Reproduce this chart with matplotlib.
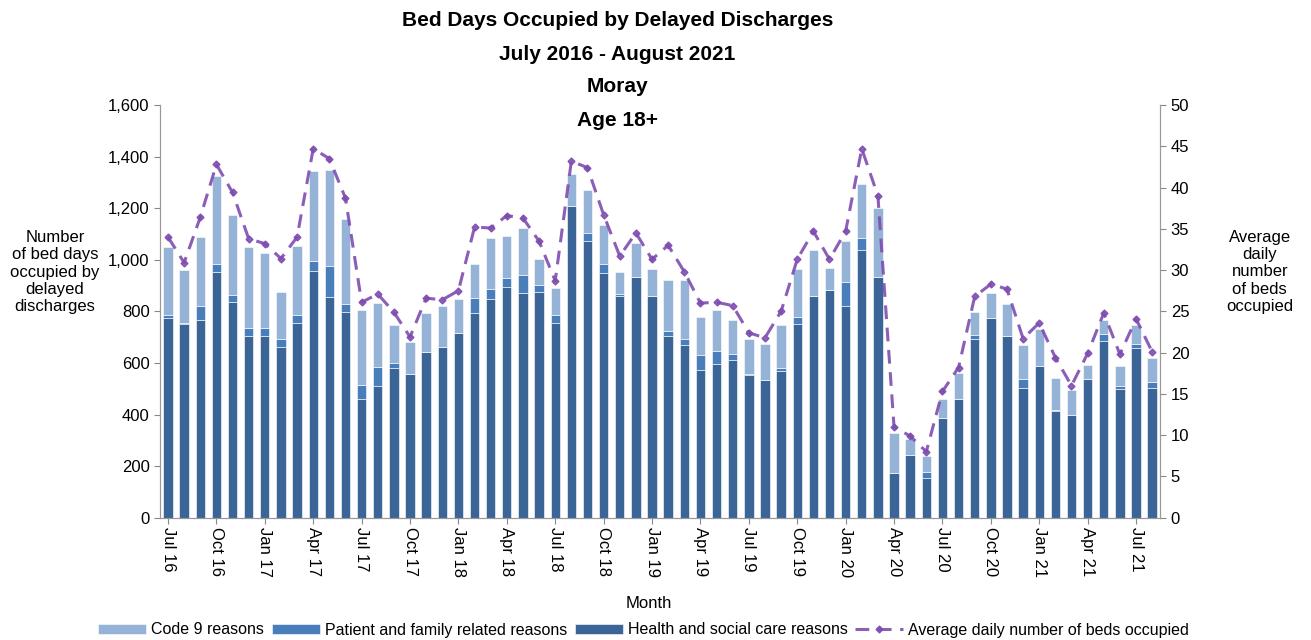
import matplotlib
matplotlib.use("Agg")
import matplotlib.pyplot as plt
import numpy as np

plt.rcParams["font.family"] = ["Liberation Sans", "DejaVu Sans"]

# ── data ─────────────────────────────────────────────────────────────────────
months = ["Jul 16", "Aug 16", "Sep 16", "Oct 16", "Nov 16", "Dec 16",
          "Jan 17", "Feb 17", "Mar 17", "Apr 17", "May 17", "Jun 17",
          "Jul 17", "Aug 17", "Sep 17", "Oct 17", "Nov 17", "Dec 17",
          "Jan 18", "Feb 18", "Mar 18", "Apr 18", "May 18", "Jun 18",
          "Jul 18", "Aug 18", "Sep 18", "Oct 18", "Nov 18", "Dec 18",
          "Jan 19", "Feb 19", "Mar 19", "Apr 19", "May 19", "Jun 19",
          "Jul 19", "Aug 19", "Sep 19", "Oct 19", "Nov 19", "Dec 19",
          "Jan 20", "Feb 20", "Mar 20", "Apr 20", "May 20", "Jun 20",
          "Jul 20", "Aug 20", "Sep 20", "Oct 20", "Nov 20", "Dec 20",
          "Jan 21", "Feb 21", "Mar 21", "Apr 21", "May 21", "Jun 21",
          "Jul 21", "Aug 21"]

health = [774, 750, 765, 953, 835, 704, 703, 662, 756, 958, 855, 797,
          462, 510, 582, 556, 644, 662, 716, 795, 848, 893, 872, 875,
          756, 1210, 1071, 949, 859, 935, 860, 704, 671, 571, 597, 610,
          552, 535, 569, 750, 858, 884, 820, 1036, 933, 172, 243, 155,
          387, 462, 694, 774, 703, 504, 587, 413, 400, 537, 685, 500,
          658, 504]

patient = [13, 4, 57, 29, 29, 31, 32, 31, 31, 37, 119, 31,
           53, 74, 19, 3, 0, 0, 0, 56, 38, 38, 70, 29,
           31, 0, 33, 33, 9, 0, 0, 21, 22, 59, 49, 23,
           7, 0, 13, 28, 0, 0, 93, 49, 0, 0, 0, 23,
           0, 0, 13, 0, 0, 33, 0, 6, 0, 0, 28, 12,
           17, 22]

code9 = [264, 206, 268, 344, 311, 314, 292, 182, 267, 348, 375, 330,
         289, 249, 147, 121, 151, 157, 132, 131, 198, 162, 180, 100,
         103, 123, 167, 152, 84, 129, 104, 197, 229, 147, 160, 132,
         135, 140, 165, 187, 178, 84, 158, 209, 268, 158, 61, 62,
         75, 99, 90, 97, 124, 134, 144, 123, 94, 56, 55, 78,
         73, 93]

avg_beds = [34.0, 30.9, 36.4, 42.8, 39.4, 33.8, 33.2, 31.4, 34.0, 44.7, 43.5, 38.7,
            26.1, 27.1, 24.9, 21.9, 26.6, 26.4, 27.5, 35.2, 35.1, 36.6, 36.3, 33.5,
            28.7, 43.2, 42.4, 36.7, 31.7, 34.5, 31.3, 33.0, 29.8, 26.0, 26.1, 25.7,
            22.4, 21.8, 25.0, 31.3, 34.7, 31.3, 34.7, 44.7, 39.0, 11.0, 9.9, 8.0,
            15.3, 18.2, 26.8, 28.3, 27.7, 21.7, 23.6, 19.4, 16.0, 19.9, 24.8, 19.8,
            24.1, 20.1]

# ── figure ───────────────────────────────────────────────────────────────────
fig = plt.figure(figsize=(13.11, 6.4), dpi=100)
ax = fig.add_axes([0.122, 0.191, 0.763, 0.645])

x = np.arange(len(months))
health = np.array(health)
patient = np.array(patient)
code9 = np.array(code9)

c_health = "#3A6596"
c_patient = "#4A7EBB"
c_code9 = "#95B3D7"
c_line = "#7F4DB0"

w = 0.58
b1 = ax.bar(x, health, w, color=c_health, edgecolor="white", linewidth=0.4,
            label="Health and social care reasons")
b2 = ax.bar(x, patient, w, bottom=health, color=c_patient, edgecolor="white",
            linewidth=0.4, label="Patient and family related reasons")
b3 = ax.bar(x, code9, w, bottom=health + patient, color=c_code9,
            edgecolor="white", linewidth=0.4, label="Code 9 reasons")

ax.set_xlim(-0.5, len(months) - 0.5)
ax.set_ylim(0, 1600)
ax.set_yticks(range(0, 1601, 200))
ax.set_yticklabels([f"{v:,}" for v in range(0, 1601, 200)], fontsize=12)
ax.set_xticks(x[::3])
ax.set_xticklabels(months[::3], rotation=270, fontsize=12, va="top", ha="center")
ax.tick_params(axis="x", length=4, color="#888888", pad=3)
ax.tick_params(axis="y", length=4, color="#888888")
ax.spines["top"].set_visible(False)
for s in ["left", "bottom", "right"]:
    ax.spines[s].set_color("#999999")

ax2 = ax.twinx()
ln, = ax2.plot(x, avg_beds, color=c_line, alpha=0.9, linestyle=(0, (4.5, 2.8)),
               linewidth=2.2, marker="D", markersize=3.5,
               label="Average daily number of beds occupied")
ax2.set_ylim(0, 50)
ax2.set_yticks(range(0, 51, 5))
ax2.tick_params(axis="y", labelsize=12, length=4, color="#888888")
ax2.spines["top"].set_visible(False)
for s in ["left", "bottom", "right"]:
    ax2.spines[s].set_color("#999999")

# titles
titles = ["Bed Days Occupied by Delayed Discharges", "July 2016 - August 2021",
          "Moray", "Age 18+"]
for i, t in enumerate(titles):
    fig.text(0.471, 1 - (21 + i * 33) / 640, t, ha="center", va="center",
             fontsize=15, fontweight="bold")

fig.text(0.042, 1 - 272 / 640, "Number\nof bed days\noccupied by\ndelayed\ndischarges",
         ha="center", va="center", fontsize=12, linespacing=1.18)
fig.text(0.961, 1 - 272 / 640, "Average\ndaily\nnumber\nof beds\noccupied",
         ha="center", va="center", fontsize=12, linespacing=1.18)
fig.text(0.495, 1 - 603 / 640, "Month", ha="center", va="center", fontsize=12)

fig.legend([b3, b2, b1, ln],
           ["Code 9 reasons", "Patient and family related reasons",
            "Health and social care reasons", "Average daily number of beds occupied"],
           loc="center", bbox_to_anchor=(0.491, 1 - 630 / 640), ncol=4, frameon=False,
           fontsize=11.5, handlelength=3.0, handleheight=0.6, columnspacing=0.5,
           handletextpad=0.3)

fig.savefig("out.png", dpi=100)
